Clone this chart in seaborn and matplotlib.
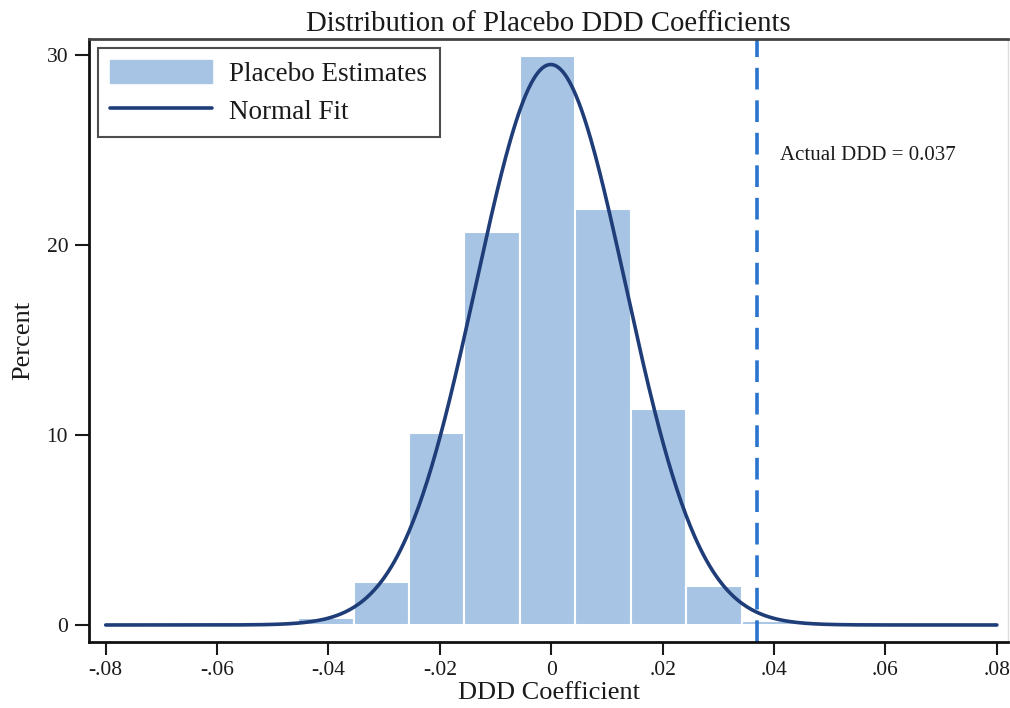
import numpy as np
import pandas as pd
import matplotlib
matplotlib.use("Agg")
import matplotlib.pyplot as plt
import seaborn as sns
from matplotlib.patches import Patch
from matplotlib.lines import Line2D

# ---- data ----
bin_edges = [-0.0454, -0.0355, -0.0255, -0.0156, -0.0056, 0.0043, 0.0143, 0.0242, 0.0342, 0.0441]
bin_percents = [0.35, 2.25, 10.1, 20.7, 29.95, 21.9, 11.35, 2.05, 0.2]
fit_mean = -0.0001
fit_sd = 0.01345
actual_ddd = 0.037
x_ticks = [-0.08, -0.06, -0.04, -0.02, 0.0, 0.02, 0.04, 0.06, 0.08]
x_tick_labels = ["-.08", "-.06", "-.04", "-.02", "0", ".02", ".04", ".06", ".08"]
y_ticks = [0, 10, 20, 30]

bar_color = "#a7c4e4"
line_color = "#1f3d78"
dash_color = "#2a74cf"
text_color = "#1a1a1a"

sns.set_style("white")
plt.rcParams["font.family"] = ["Liberation Serif", "DejaVu Serif"]
plt.rcParams["text.color"] = text_color
plt.rcParams["axes.labelcolor"] = text_color
plt.rcParams["xtick.color"] = text_color
plt.rcParams["ytick.color"] = text_color

fig = plt.figure(figsize=(10.1, 7.08), dpi=100)
ax = fig.add_axes([89 / 1010, (708 - 641.7) / 708, (1008 - 89) / 1010, (641.7 - 39) / 708])

centers = [(bin_edges[i] + bin_edges[i + 1]) / 2 for i in range(len(bin_percents))]
df = pd.DataFrame({"coef": centers, "pct": bin_percents})
sns.histplot(data=df, x="coef", weights="pct", bins=bin_edges, stat="count",
             color=bar_color, edgecolor="white", linewidth=1.5, alpha=1.0, ax=ax)

# normal fit scaled to percent per bin
bw = np.mean(np.diff(bin_edges))
xs = np.linspace(-0.08, 0.08, 600)
ys = 100 * bw * np.exp(-0.5 * ((xs - fit_mean) / fit_sd) ** 2) / (fit_sd * np.sqrt(2 * np.pi))
sns.lineplot(x=xs, y=ys, color=line_color, linewidth=2.6, ax=ax, legend=False)

ax.axvline(actual_ddd, color=dash_color, linewidth=2.6, linestyle=(0, (6, 3)))
ax.text(0.0410, 24.7, f"Actual DDD = {actual_ddd}", fontsize=15, ha="left", va="center")

ax.set_xlim(-0.0830, 0.0820)
ax.set_ylim(-0.88, 30.84)
ax.set_xticks(x_ticks)
ax.set_xticklabels(x_tick_labels)
ax.set_yticks(y_ticks)
ax.tick_params(axis="x", labelsize=15.5, length=9, width=1.5, pad=5, direction="out", bottom=True)
ax.tick_params(axis="y", labelsize=15.5, length=10, width=1.5, pad=5, direction="out", left=True)

ax.set_xlabel("DDD Coefficient", fontsize=19, labelpad=1)
ax.set_ylabel("Percent", fontsize=19, labelpad=9)
ax.set_title("Distribution of Placebo DDD Coefficients", fontsize=20.7, pad=6)

for side in ["left", "bottom"]:
    ax.spines[side].set_color("#111111")
    ax.spines[side].set_linewidth(2)
ax.spines["top"].set_color("#444444")
ax.spines["top"].set_linewidth(2)
ax.spines["right"].set_color("#dddddd")
ax.spines["right"].set_linewidth(1)

handles = [Patch(facecolor=bar_color, edgecolor=bar_color, label="Placebo Estimates"),
           Line2D([0], [0], color=line_color, linewidth=2.6, label="Normal Fit")]
leg = ax.legend(handles=handles, loc="upper left", bbox_to_anchor=(0.0098, 0.985),
                borderaxespad=0, fontsize=19.5, frameon=True, fancybox=False,
                handlelength=3.75, handleheight=0.9, handletextpad=0.65,
                borderpad=0.45, labelspacing=0.42)
leg.get_frame().set_edgecolor("#222222")
leg.get_frame().set_linewidth(1.5)

fig.savefig("out.png", dpi=100)
